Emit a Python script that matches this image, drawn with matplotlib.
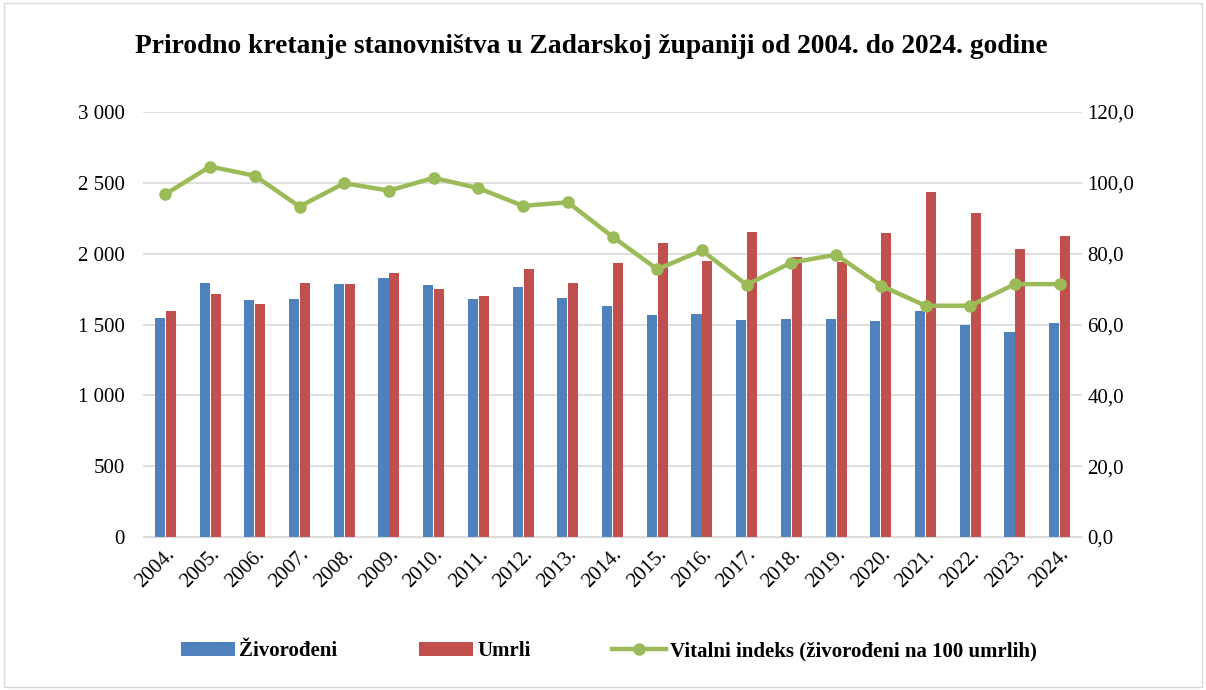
import numpy as np
import matplotlib.pyplot as plt
from matplotlib.patches import Rectangle

# data
years = ['2004.', '2005.', '2006.', '2007.', '2008.', '2009.', '2010.',
         '2011.', '2012.', '2013.', '2014.', '2015.', '2016.', '2017.',
         '2018.', '2019.', '2020.', '2021.', '2022.', '2023.', '2024.']
zivorodeni = [1544, 1793, 1673, 1678, 1786, 1826, 1777, 1678, 1767, 1687,
              1633, 1567, 1572, 1532, 1537, 1541, 1523, 1593, 1497, 1449, 1513]
umrli = [1598, 1716, 1643, 1796, 1786, 1866, 1751, 1704, 1890, 1791,
         1932, 2073, 1948, 2155, 1979, 1939, 2146, 2438, 2285, 2033, 2123]
vitalni = [96.8, 104.6, 102.0, 93.3, 99.9, 97.8, 101.4, 98.5, 93.5, 94.5,
           84.8, 75.6, 80.9, 71.2, 77.5, 79.7, 71.0, 65.3, 65.3, 71.4, 71.4]

blue = '#4F81BD'
red = '#C0504D'
green = '#9BBB59'
serif = ['Liberation Serif', 'DejaVu Serif']

plt.rcParams['font.family'] = serif

fig = plt.figure(figsize=(12.06, 6.9), dpi=100)
ax = fig.add_axes([0.1186, 0.2217, 0.7786, 0.616])
ax2 = ax.twinx()

x = np.arange(len(years))
w = 0.225
ax.bar(x - w / 2 - 0.01, zivorodeni, width=w, color=blue, label='Živorođeni', zorder=3)
ax.bar(x + w / 2 + 0.01, umrli, width=w, color=red, label='Umrli', zorder=3)

ax2.plot(x, vitalni, color=green, lw=3.2, marker='o', markersize=8,
         label='Vitalni indeks (živorođeni na 100 umrlih)', zorder=4)

ax.set_xlim(-0.5, len(years) - 0.5)
ax.set_ylim(0, 3000)
ax2.set_ylim(0, 120)
ax.set_yticks(np.arange(0, 3001, 500))
ax.set_yticklabels([f'{v:,}'.replace(',', ' ') for v in range(0, 3001, 500)])
ax2.set_yticks(np.arange(0, 121, 20))
ax2.set_yticklabels([f'{v:.1f}'.replace('.', ',') for v in range(0, 121, 20)])
ax.set_xticks(x)
ax.set_xticklabels(years, rotation=45, ha='right', rotation_mode='anchor')

ax.grid(axis='y', color='#d9d9d9', lw=1.2, zorder=0)
ax.set_axisbelow(True)
for a in (ax, ax2):
    for s in ('top', 'left', 'right'):
        a.spines[s].set_visible(False)
    a.spines['bottom'].set_color('#d9d9d9')
    a.tick_params(length=0, labelsize=15)
ax.tick_params(axis='y', pad=13)
ax.tick_params(axis='x', pad=6)
ax2.tick_params(axis='y', pad=4)

fig.text(0.49, 0.932, 'Prirodno kretanje stanovništva u Zadarskoj županiji od 2004. do 2024. godine',
         ha='center', va='center', fontsize=19.8, fontweight='bold')

h1, l1 = ax.get_legend_handles_labels()
h2, l2 = ax2.get_legend_handles_labels()
fig.legend(h1 + h2, l1 + l2, loc='center', bbox_to_anchor=(0.505, 0.056), ncol=3,
           frameon=False, prop={'family': serif, 'weight': 'bold', 'size': 15},
           handlelength=2.6, handleheight=0.6, handletextpad=0.2, columnspacing=3.9)

# thin frame round the chart
fig.patches.append(Rectangle((0.003, 0.004), 0.994, 0.992, transform=fig.transFigure,
                             fill=False, edgecolor='#d9d9d9', lw=1))

fig.savefig('out.png', dpi=100)
